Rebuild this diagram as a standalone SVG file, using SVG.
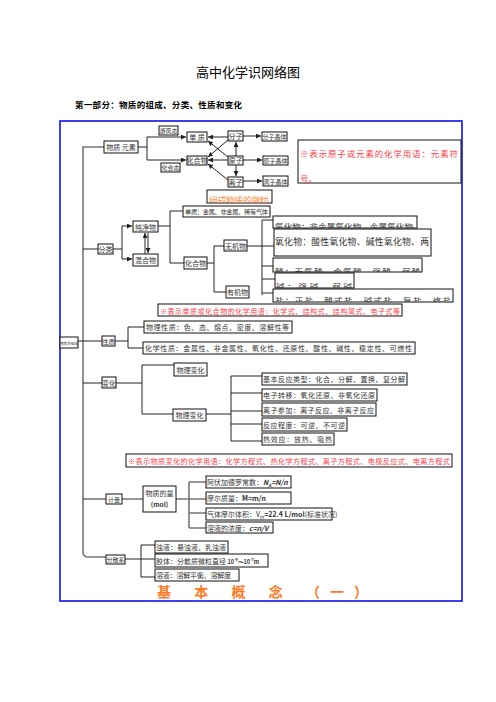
<svg xmlns="http://www.w3.org/2000/svg" width="496" height="702" viewBox="0 0 496 702">
<style>
text{font-family:"Noto Sans CJK SC","Liberation Serif",serif;fill:#333;}
.t{font-size:7px;}
.b{fill:#fff;stroke:#111;stroke-width:1;}
.ln{fill:none;stroke:#222;stroke-width:1;}
.gr{fill:none;stroke:#777;stroke-width:1.6;}
.red{fill:#ff3d4a;}
</style>
<defs>
<marker id="ar" viewBox="0 0 6 6" refX="6" refY="3" markerWidth="5" markerHeight="5" orient="auto">
<path d="M0 0 L6 3 L0 6 z" fill="#222"/>
</marker>
<clipPath id="cOr"><rect x="207" y="190" width="65" height="13"/></clipPath>
<clipPath id="cA"><rect x="273" y="216" width="144" height="12"/></clipPath>
<clipPath id="cB"><rect x="274" y="229" width="157" height="27"/></clipPath>
<clipPath id="cC"><rect x="273" y="258" width="149" height="14"/></clipPath>
<clipPath id="cD"><rect x="275" y="273" width="79" height="15"/></clipPath>
<clipPath id="cE"><rect x="273" y="289" width="180" height="13"/></clipPath>
</defs>
<rect width="496" height="702" fill="#fff"/>
<text x="248" y="77" text-anchor="middle" style="font-size:13px;fill:#000;">高中化学识网络图</text>
<text x="75" y="108" style="font-size:8.5px;font-weight:bold;fill:#000;" textLength="167" lengthAdjust="spacing">第一部分：物质的组成、分类、性质和变化</text>
<rect x="60" y="121" width="402" height="480" fill="none" stroke="#1010ee" stroke-width="1.6"/>

<g id="connectors">
<path class="gr" d="M104 147 H83 V552 Q83 557 88 557 H106"/>
<path class="ln" d="M138 147 H147 M147 137 V160"/>
<path class="ln" d="M147 137 H186" marker-end="url(#ar)"/>
<path class="ln" d="M147 160 H186" marker-end="url(#ar)"/>
<path class="ln" d="M228 137 H208" marker-end="url(#ar)"/>
<path class="ln" d="M228 160 H208" marker-end="url(#ar)"/>
<path class="ln" d="M228 157 L208 141" marker-end="url(#ar)"/>
<path class="ln" d="M228 140 L208 157" marker-end="url(#ar)"/>
<path class="ln" d="M228 180 L208 164" marker-end="url(#ar)"/>
<path class="ln" d="M236 156 V142" marker-end="url(#ar)"/>
<path class="ln" d="M236 165 V176" marker-end="url(#ar)"/>
<path class="ln" d="M243 136 H261" marker-end="url(#ar)"/>
<path class="ln" d="M243 160 H262" marker-end="url(#ar)"/>
<path class="ln" d="M243 181 H262" marker-end="url(#ar)"/>

<path class="ln" d="M83 249 H98 M113 249 H122 M122 226 V259"/>
<path class="ln" d="M122 226 H132" marker-end="url(#ar)"/>
<path class="ln" d="M122 259 H132" marker-end="url(#ar)"/>
<path class="ln" d="M145 254 V233" marker-end="url(#ar)"/>
<path class="ln" d="M148 233 V253" marker-end="url(#ar)"/>
<path class="ln" d="M158 226 H170 M170 211 V263 M170 211 H183 M170 263 H184"/>
<path class="ln" d="M207 263 H214 M214 246 V292 M214 246 H224 M214 292 H226"/>
<path class="ln" d="M247 246 H262 M262 220 V295 M262 220 H273 M262 246 H274 M262 266 H273 M262 279 H275 M262 293 H273"/>

<path class="ln" d="M78 341 H102 M115 341 H128 M128 327 V348 M128 327 H144 M128 348 H143"/>

<path class="ln" d="M83 383 H102 M116 383 H142 M142 365 V414 M142 365 H174 M142 414 H173"/>
<path class="ln" d="M206 414 H231 M231 376 V441 M231 376 H262 M231 393 H262 M231 411 H262 M231 424 H262 M231 441 H262"/>

<path class="ln" d="M83 499 H106"/>
<path class="gr" d="M122 499 H143 M176 499 H189 M189 482 V528 M189 482 H206 M189 499 H206 M189 513 H206 M189 528 H206"/>

<path class="gr" d="M125 559 H155"/>
<path class="ln" d="M141 545 V577 M141 545 H155 M141 577 H155"/>
</g>

<g id="n-wuzhi-yuansu"><rect class="b" x="104" y="141" width="34" height="12"/><text class="t" x="121" y="150" text-anchor="middle">物质  元素</text></g>
<g id="n-youlitai"><rect class="b" x="159" y="126" width="19" height="9"/><text x="168.5" y="133" text-anchor="middle" style="font-size:6px;">游离态</text></g>
<g id="n-huahetai"><rect class="b" x="161" y="163" width="19" height="9"/><text x="170.5" y="170" text-anchor="middle" style="font-size:6px;">化合态</text></g>
<g id="n-danzhi"><rect class="b" x="187" y="132" width="20" height="10"/><text class="t" x="197" y="140" text-anchor="middle">单  质</text></g>
<g id="n-huahewu"><rect class="b" x="187" y="156" width="20" height="9"/><text class="t" x="197" y="163" text-anchor="middle">化合物</text></g>
<g id="n-fenzi"><rect class="b" x="228" y="131" width="15" height="10"/><text class="t" x="235.5" y="139" text-anchor="middle">分子</text></g>
<g id="n-yuanzi"><rect class="b" x="228" y="156" width="15" height="9"/><text class="t" x="235.5" y="163" text-anchor="middle">原子</text></g>
<g id="n-lizi"><rect class="b" x="228" y="177" width="15" height="10"/><text class="t" x="235.5" y="185" text-anchor="middle">离子</text></g>
<g id="n-fenzijingti"><rect class="b" x="262" y="132" width="25" height="9"/><text x="274.5" y="139" text-anchor="middle" style="font-size:6px;">分子晶体</text></g>
<g id="n-yuanzijingti"><rect class="b" x="263" y="156" width="25" height="9"/><text x="275.5" y="163" text-anchor="middle" style="font-size:6px;">原子晶体</text></g>
<g id="n-lizijingti"><rect class="b" x="263" y="176" width="25" height="10"/><text x="275.5" y="184" text-anchor="middle" style="font-size:6px;">离子晶体</text></g>
<g id="n-note1"><rect class="b" x="298" y="140" width="163" height="43"/><text class="red" x="300" y="157" style="font-size:8.5px;" textLength="158" lengthAdjust="spacing">※表示原子或元素的化学用语：元素符</text><text class="red" x="300" y="182" style="font-size:8.5px;">号。</text></g>
<g id="n-weili"><rect class="b" x="207" y="190" width="65" height="13"/><text x="209" y="204" clip-path="url(#cOr)" style="font-size:9px;fill:#ff8a3a;" textLength="60" lengthAdjust="spacing">组成物质的微粒</text></g>

<g id="n-fenlei"><rect class="b" x="98" y="244" width="15" height="10"/><text class="t" x="105.5" y="252" text-anchor="middle">分类</text></g>
<g id="n-chunjingwu"><rect class="b" x="133" y="221" width="25" height="11"/><text class="t" x="145.5" y="229.5" text-anchor="middle">纯净物</text></g>
<g id="n-hunhewu"><rect class="b" x="133" y="254" width="25" height="12"/><text class="t" x="145.5" y="263" text-anchor="middle">混合物</text></g>
<g id="n-danzhi2"><rect class="b" x="183" y="206" width="87" height="11"/><text x="185" y="214" style="font-size:6.2px;" textLength="83" lengthAdjust="spacing">单质：金属、非金属、稀有气体</text></g>
<g id="n-huahewu2"><rect class="b" x="184" y="257" width="23" height="12"/><text class="t" x="195.5" y="266" text-anchor="middle">化合物</text></g>
<g id="n-wujiwu"><rect class="b" x="224" y="240" width="23" height="11"/><text class="t" x="235.5" y="248.5" text-anchor="middle">无机物</text></g>
<g id="n-youjiwu"><rect class="b" x="226" y="286" width="23" height="12"/><text class="t" x="237.5" y="295" text-anchor="middle">有机物</text></g>
<g id="n-A"><rect class="b" x="273" y="216" width="144" height="12"/><text x="275" y="230" clip-path="url(#cA)" style="font-size:8.5px;" textLength="138" lengthAdjust="spacing">氧化物：非金属氧化物、金属氧化物</text></g>
<g id="n-B"><rect class="b" x="274" y="229" width="157" height="27"/><text x="275" y="245" clip-path="url(#cB)" style="font-size:8.8px;" textLength="154" lengthAdjust="spacing">氧化物：酸性氧化物、碱性氧化物、两</text></g>
<g id="n-C"><rect class="b" x="273" y="258" width="149" height="14"/><text x="275" y="275" clip-path="url(#cC)" style="font-size:8.5px;" textLength="145" lengthAdjust="spacing">酸：无氧酸、含氧酸、强酸、弱酸</text></g>
<g id="n-D"><rect class="b" x="275" y="273" width="79" height="15"/><text x="276" y="290" clip-path="url(#cD)" style="font-size:8.5px;" textLength="76" lengthAdjust="spacing">碱：强碱、弱碱</text></g>
<g id="n-E"><rect class="b" x="273" y="289" width="180" height="13"/><text x="275" y="303.5" clip-path="url(#cE)" style="font-size:8.5px;" textLength="176" lengthAdjust="spacing">盐：正盐、酸式盐、碱式盐、复盐、络盐</text></g>
<g id="n-note2"><rect class="b" x="158" y="304" width="244" height="12"/><text class="red" x="160" y="313.5" style="font-size:7px;" textLength="240" lengthAdjust="spacing">※表示单质或化合物的化学用语：化学式、结构式、结构简式、电子式等</text></g>

<g id="n-zucheng"><rect class="b" x="60" y="337" width="18" height="11"/><text x="69" y="344.5" text-anchor="middle" style="font-size:3.6px;">物质的组成</text></g>
<g id="n-xingzhi"><rect class="b" x="102" y="336" width="13" height="10"/><text x="108.5" y="344" text-anchor="middle" style="font-size:6px;">性质</text></g>
<g id="n-wulixingzhi"><rect class="b" x="144" y="321" width="148" height="12"/><text class="t" x="146" y="330" textLength="143" lengthAdjust="spacing">物理性质：色、态、熔点、密度、溶解性等</text></g>
<g id="n-huaxuexingzhi"><rect class="b" x="143" y="342" width="272" height="12"/><text class="t" x="145" y="351" textLength="267" lengthAdjust="spacing">化学性质：金属性、非金属性、氧化性、还原性、酸性、碱性、稳定性、可燃性</text></g>

<g id="n-bianhua"><rect class="b" x="102" y="377" width="14" height="11"/><text class="t" x="109" y="385.5" text-anchor="middle">变化</text></g>
<g id="n-wulibianhua"><rect class="b" x="174" y="363" width="33" height="13"/><text class="t" x="190.5" y="372.5" text-anchor="middle">物理变化</text></g>
<g id="n-wulibianhua2"><rect class="b" x="173" y="409" width="33" height="12"/><text class="t" x="189.5" y="418" text-anchor="middle">物理变化</text></g>
<g id="n-r1"><rect class="b" x="262" y="373" width="145" height="12"/><text class="t" x="263" y="382" textLength="142" lengthAdjust="spacing">基本反应类型：化合、分解、置换、复分解</text></g>
<g id="n-r2"><rect class="b" x="262" y="389" width="115" height="12"/><text class="t" x="263" y="398" textLength="112" lengthAdjust="spacing">电子转移：氧化还原、非氧化还原</text></g>
<g id="n-r3"><rect class="b" x="262" y="403" width="114" height="13"/><text class="t" x="263" y="412.5" textLength="111" lengthAdjust="spacing">离子参加：离子反应、非离子反应</text></g>
<g id="n-r4"><rect class="b" x="262" y="418" width="85" height="13"/><text class="t" x="263" y="427.5" textLength="82" lengthAdjust="spacing">反应程度：可逆、不可逆</text></g>
<g id="n-r5"><rect class="b" x="262" y="433" width="72" height="12"/><text class="t" x="263" y="442" textLength="69" lengthAdjust="spacing">热效应：放热、吸热</text></g>
<g id="n-note3"><rect x="126" y="454" width="326" height="13" fill="#fff" stroke="#111" stroke-width="1"/><text class="red" x="128" y="463.5" style="font-size:7.2px;" textLength="322" lengthAdjust="spacing">※表示物质变化的化学用语：化学方程式、热化学方程式、离子方程式、电极反应式、电离方程式</text></g>

<g id="n-jiliang"><rect class="b" x="106" y="494" width="16" height="10"/><text x="114" y="502" text-anchor="middle" style="font-size:6px;">计量</text></g>
<g id="n-wuzhideliang"><rect class="b" x="143" y="486" width="33" height="26"/><text class="t" x="159.5" y="496" text-anchor="middle">物质的量</text><text x="159.5" y="507" text-anchor="middle" style="font-size:6.5px;font-weight:bold;">(mol)</text></g>
<g id="n-j1"><rect class="b" x="206" y="476" width="85" height="12"/><text class="t" x="207" y="485">阿伏加德罗常数：<tspan style="font-weight:bold;font-style:italic;">N<tspan style="font-size:4.5px;" dy="1.5">A</tspan><tspan dy="-1.5">=N/n</tspan></tspan></text></g>
<g id="n-j2"><rect class="b" x="206" y="492" width="85" height="12"/><text class="t" x="207" y="501">摩尔质量：<tspan style="font-weight:bold;">M=m/n</tspan></text></g>
<g id="n-j3"><rect class="b" x="206" y="508" width="126" height="12"/><text class="t" x="207" y="517">气体摩尔体积：V<tspan style="font-size:4.5px;" dy="1.5">m</tspan><tspan dy="-1.5" style="font-weight:bold;">=22.4 L/mol</tspan>(标准状况)</text></g>
<g id="n-j4"><rect class="b" x="206" y="522" width="67" height="11"/><text class="t" x="207" y="530.5">溶液的浓度：<tspan style="font-weight:bold;font-style:italic;">c=n/V</tspan></text></g>

<g id="n-fensanxi"><rect class="b" x="106" y="555" width="19" height="9"/><text x="115.5" y="562" text-anchor="middle" style="font-size:6px;">分散系</text></g>
<g id="n-s1"><rect class="b" x="155" y="541" width="73" height="12"/><text class="t" x="156" y="550" textLength="70" lengthAdjust="spacing">浊液：悬浊液、乳浊液</text></g>
<g id="n-s2"><rect class="b" x="155" y="554" width="113" height="13"/><text class="t" x="156" y="563.5">胶体：分散质微粒直径 <tspan style="font-size:5.5px;font-weight:bold;">10<tspan dy="-2.5" style="font-size:4px;">-9</tspan><tspan dy="2.5">～10</tspan><tspan dy="-2.5" style="font-size:4px;">-7</tspan><tspan dy="2.5">m</tspan></tspan></text></g>
<g id="n-s3"><rect class="b" x="155" y="569" width="84" height="12"/><text class="t" x="156" y="578" textLength="75" lengthAdjust="spacing">溶液：溶解平衡、溶解度</text></g>

<text x="157" y="597" style="font-size:14px;font-weight:bold;fill:#ff7a1f;" textLength="211" lengthAdjust="spacing">基 本 概 念 （一）</text>
</svg>
